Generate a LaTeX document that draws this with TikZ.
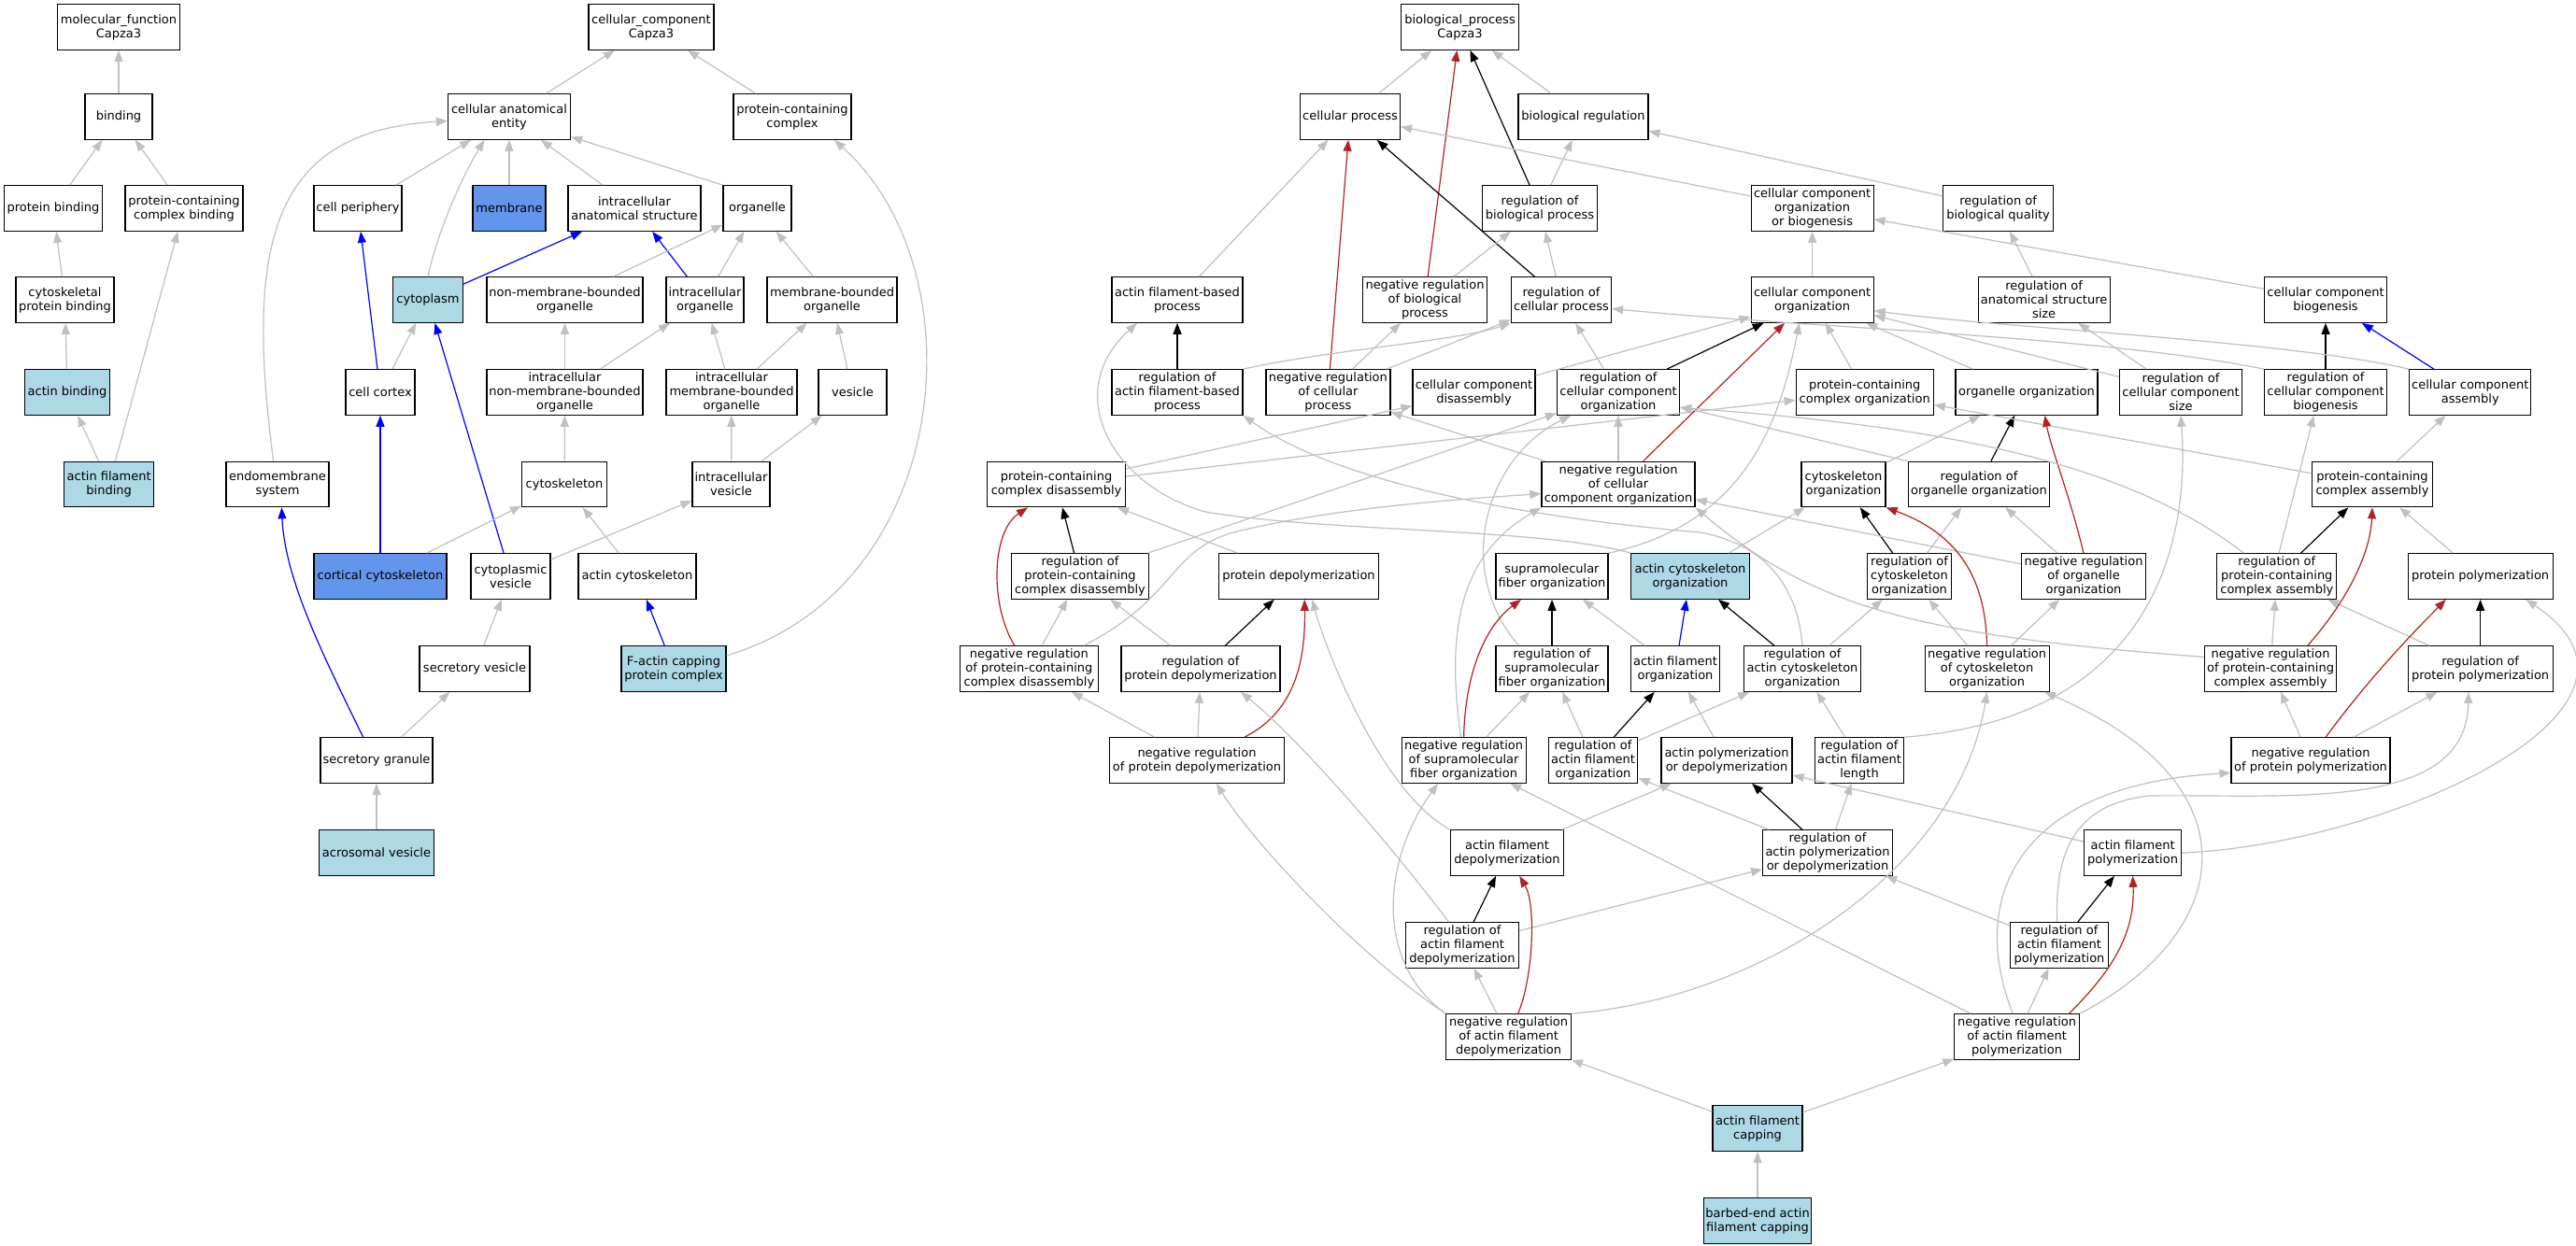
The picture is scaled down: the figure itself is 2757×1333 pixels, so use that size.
\documentclass[tikz,border=0pt]{standalone}
\usepackage{fontspec}
\setmainfont{DejaVu Sans}
\usetikzlibrary{arrows.meta}
\definecolor{isagray}{HTML}{C0C0C0}
\definecolor{hitblue}{HTML}{ADD8E6}
\definecolor{leafblue}{HTML}{6495ED}
\definecolor{negred}{HTML}{B22222}
\begin{document}
\begin{tikzpicture}[x=1pt,y=1pt,yscale=-1,
    term/.style={draw=black, line width=1.2pt, fill=white, minimum height=48.5pt, inner xsep=2pt, inner ysep=1pt, align=center, font=\fontsize{13}{15}\selectfont},
    hit/.style={term, fill=hitblue},
    leaf/.style={term, fill=leafblue},
    goedge/.style={line width=1.2pt, -{Triangle[length=12pt,width=9pt]}},
    isa/.style={goedge, isagray},
    regulates/.style={goedge, black},
    negregulates/.style={goedge, negred},
    partof/.style={goedge, blue}]
    \useasboundingbox[fill=white] (0,0) rectangle (2757,1333);

    %Shapes: molecular function and cellular component
    \node [term, minimum width=131pt] (mf) at (127,29) {molecular\_function\\Capza3};
    \node [term, minimum width=134pt] (cc) at (697,29) {cellular\_component\\Capza3};
    \node [term, minimum width=72pt] (bind) at (127,125) {binding};
    \node [term, minimum width=131pt] (cae) at (545,125) {cellular anatomical\\entity};
    \node [term, minimum width=126pt] (pcc) at (848,125) {protein-containing\\complex};
    \node [term, minimum width=105pt] (pb) at (57,223) {protein binding};
    \node [term, minimum width=126pt] (pccb) at (197,223) {protein-containing\\complex binding};
    \node [term, minimum width=94pt] (cper) at (383,223) {cell periphery};
    \node [leaf, minimum width=78pt] (mem) at (545,223) {membrane};
    \node [term, minimum width=142pt] (ias) at (679,223) {intracellular\\anatomical structure};
    \node [term, minimum width=73pt] (org) at (810.5,223) {organelle};
    \node [term, minimum width=105pt] (cpb) at (69.5,321) {cytoskeletal\\protein binding};
    \node [hit, minimum width=75pt] (cyt) at (458,321) {cytoplasm};
    \node [term, minimum width=167pt] (nmbo) at (604.5,321) {non-membrane-bounded\\organelle};
    \node [term, minimum width=83pt] (io) at (754.5,321) {intracellular\\organelle};
    \node [term, minimum width=139pt] (mbo) at (890.5,321) {membrane-bounded\\organelle};
    \node [hit, minimum width=91pt] (ab) at (72,420) {actin binding};
    \node [term, minimum width=74pt] (ccx) at (407,420) {cell cortex};
    \node [term, minimum width=167pt] (inmbo) at (604.5,420) {intracellular\\non-membrane-bounded\\organelle};
    \node [term, minimum width=140pt] (imbo) at (783,420) {intracellular\\membrane-bounded\\organelle};
    \node [term, minimum width=73pt] (ves) at (912.5,420) {vesicle};
    \node [hit, minimum width=96pt] (afb) at (116.7,518.5) {actin filament\\binding};
    \node [term, minimum width=110pt] (ems) at (297,518.5) {endomembrane\\system};
    \node [term, minimum width=91pt] (csk) at (604,518.5) {cytoskeleton};
    \node [term, minimum width=83pt] (iv) at (782.5,518.5) {intracellular\\vesicle};
    \node [leaf, minimum width=142pt] (ccsk) at (407,617) {cortical cytoskeleton};
    \node [term, minimum width=85pt] (cv) at (546.5,617) {cytoplasmic\\vesicle};
    \node [term, minimum width=126pt] (acsk) at (682,617) {actin cytoskeleton};
    \node [term, minimum width=118pt] (sv) at (508,716) {secretory vesicle};
    \node [hit, minimum width=112pt] (facpc) at (721,716) {F-actin capping\\protein complex};
    \node [term, minimum width=120pt] (sg) at (403,814) {secretory granule};
    \node [hit, minimum width=123pt] (av) at (403,913) {acrosomal vesicle};

    %Shapes: biological process
    \node [term, minimum width=126pt] (bp) at (1562.5,29) {biological\_process\\Capza3};
    \node [term, minimum width=107pt] (cp) at (1445,125) {cellular process};
    \node [term, minimum width=139pt] (br) at (1694.5,125) {biological regulation};
    \node [term, minimum width=123pt] (rbp) at (1648,223) {regulation of\\biological process};
    \node [term, minimum width=131pt] (ccob) at (1939.6,223) {cellular component\\organization\\or biogenesis};
    \node [term, minimum width=118pt] (rbq) at (2138.6,223) {regulation of\\biological quality};
    \node [term, minimum width=140pt] (afbp) at (1260,321) {actin filament-based\\process};
    \node [term, minimum width=133pt] (nrbp) at (1525,321) {negative regulation\\of biological\\process};
    \node [term, minimum width=107pt] (rcp) at (1671,321) {regulation of\\cellular process};
    \node [term, minimum width=131pt] (cco) at (1939.6,321) {cellular component\\organization};
    \node [term, minimum width=141pt] (rass) at (2187.6,321) {regulation of\\anatomical structure\\size};
    \node [term, minimum width=131pt] (ccb) at (2489,321) {cellular component\\biogenesis};
    \node [term, minimum width=140pt] (rafbp) at (1260,420) {regulation of\\actin filament-based\\process};
    \node [term, minimum width=133pt] (nrcp) at (1421.4,420) {negative regulation\\of cellular\\process};
    \node [term, minimum width=131pt] (ccd) at (1577.5,420) {cellular component\\disassembly};
    \node [term, minimum width=131pt] (rcco) at (1732,420) {regulation of\\cellular component\\organization};
    \node [term, minimum width=147pt] (pcco) at (1995.7,420) {protein-containing\\complex organization};
    \node [term, minimum width=152pt] (oo) at (2169,420) {organelle organization};
    \node [term, minimum width=131pt] (rccs) at (2334,420) {regulation of\\cellular component\\size};
    \node [term, minimum width=131pt] (rccb) at (2489,420) {regulation of\\cellular component\\biogenesis};
    \node [term, minimum width=130pt] (cca) at (2643.8,420) {cellular component\\assembly};
    \node [term, minimum width=147.6pt] (pccd) at (1130.6,518.5) {protein-containing\\complex disassembly};
    \node [term, minimum width=164pt] (nrcco) at (1732,518.5) {negative regulation\\of cellular\\component organization};
    \node [term, minimum width=90pt] (cso) at (1973,518.5) {cytoskeleton\\organization};
    \node [term, minimum width=151.5pt] (roo) at (2118,518.5) {regulation of\\organelle organization};
    \node [term, minimum width=128.6pt] (pcca) at (2539,518.5) {protein-containing\\complex assembly};
    \node [term, minimum width=147.6pt] (rpccd) at (1156,617) {regulation of\\protein-containing\\complex disassembly};
    \node [term, minimum width=171pt] (pd) at (1390,617) {protein depolymerization};
    \node [term, minimum width=120pt] (sfo) at (1661,617) {supramolecular\\fiber organization};
    \node [hit, minimum width=126.3pt] (aco) at (1809,617) {actin cytoskeleton\\organization};
    \node [term, minimum width=89.7pt] (rcso) at (2043.5,617) {regulation of\\cytoskeleton\\organization};
    \node [term, minimum width=133pt] (nroo) at (2230,617) {negative regulation\\of organelle\\organization};
    \node [term, minimum width=128pt] (rpcca) at (2436.8,617) {regulation of\\protein-containing\\complex assembly};
    \node [term, minimum width=155pt] (pp) at (2654.6,617) {protein polymerization};
    \node [term, minimum width=147.6pt] (nrpccd) at (1101.4,716) {negative regulation\\of protein-containing\\complex disassembly};
    \node [term, minimum width=170pt] (rpd) at (1285,716) {regulation of\\protein depolymerization};
    \node [term, minimum width=120pt] (rsfo) at (1661,716) {regulation of\\supramolecular\\fiber organization};
    \node [term, minimum width=95.3pt] (afo) at (1793,716) {actin filament\\organization};
    \node [term, minimum width=125.7pt] (raco) at (1929,716) {regulation of\\actin cytoskeleton\\organization};
    \node [term, minimum width=133pt] (nrcso) at (2126.6,716) {negative regulation\\of cytoskeleton\\organization};
    \node [term, minimum width=141.5pt] (nrpcca) at (2430,716) {negative regulation\\of protein-containing\\complex assembly};
    \node [term, minimum width=155pt] (rpp) at (2654.6,716) {regulation of\\protein polymerization};
    \node [term, minimum width=186.6pt] (nrpd) at (1281,814) {negative regulation\\of protein depolymerization};
    \node [term, minimum width=133pt] (nrsfo) at (1566.6,814) {negative regulation\\of supramolecular\\fiber organization};
    \node [term, minimum width=95.7pt] (rafo) at (1705,814) {regulation of\\actin filament\\organization};
    \node [term, minimum width=140pt] (apd) at (1848,814) {actin polymerization\\or depolymerization};
    \node [term, minimum width=95.5pt] (rafl) at (1990,814) {regulation of\\actin filament\\length};
    \node [term, minimum width=170pt] (nrpp) at (2473,814) {negative regulation\\of protein polymerization};
    \node [term, minimum width=120.6pt] (afd) at (1613,913) {actin filament\\depolymerization};
    \node [term, minimum width=138.8pt] (rapd) at (1956,913) {regulation of\\actin polymerization\\or depolymerization};
    \node [term, minimum width=104pt] (afp) at (2282.6,913) {actin filament\\polymerization};
    \node [term, minimum width=120.7pt] (rafd) at (1565,1012) {regulation of\\actin filament\\depolymerization};
    \node [term, minimum width=105.3pt] (rafp) at (2204,1012) {regulation of\\actin filament\\polymerization};
    \node [term, minimum width=133.7pt] (nrafd) at (1614.6,1110) {negative regulation\\of actin filament\\depolymerization};
    \node [term, minimum width=133.6pt] (nrafp) at (2158.6,1110) {negative regulation\\of actin filament\\polymerization};
    \node [hit, minimum width=96pt] (afc) at (1881,1208) {actin filament\\capping};
    \node [hit, minimum width=115pt] (beafc) at (1881,1307) {barbed-end actin\\filament capping};

    %Straight Lines: molecular function and cellular component
    \draw [isa] (bind) -- (mf);
    \draw [isa] (pb) -- (bind);
    \draw [isa] (pccb) -- (bind);
    \draw [isa] (cpb) -- (pb);
    \draw [isa] (ab) -- (cpb);
    \draw [isa] (afb) -- (ab);
    \draw [isa] (afb) -- (pccb);
    \draw [isa] (cae) -- (cc);
    \draw [isa] (pcc) -- (cc);
    \draw [isa] (cper) -- (cae);
    \draw [isa] (mem) -- (cae);
    \draw [isa] (ias) -- (cae);
    \draw [isa] (org.north west) -- (cae.-18);
    \draw [partof] (ccx) -- (cper);
    \draw [partof] (cyt) -- (ias);
    \draw [partof] (io) -- (ias);
    \draw [isa] (nmbo) -- (org);
    \draw [isa] (io) -- (org);
    \draw [isa] (mbo) -- (org);
    \draw [isa] (ccx) -- (cyt);
    \draw [partof] (cv) -- (cyt);
    \draw [isa] (inmbo) -- (nmbo);
    \draw [isa] (inmbo) -- (io);
    \draw [isa] (imbo) -- (io);
    \draw [isa] (imbo) -- (mbo);
    \draw [isa] (ves) -- (mbo);
    \draw [isa] (csk) -- (inmbo);
    \draw [isa] (iv) -- (imbo);
    \draw [isa] (iv) -- (ves);
    \draw [partof] (ccsk) -- (ccx);
    \draw [isa] (ccsk) -- (csk);
    \draw [isa] (cv) -- (iv);
    \draw [isa] (acsk) -- (csk);
    \draw [partof] (facpc) -- (acsk);
    \draw [isa] (sv) -- (cv);
    \draw [isa] (sg) -- (sv);
    \draw [isa] (av) -- (sg);
    %Curve Lines
    \draw [isa] (ems.100) .. controls (262,260) and (290,140) .. (cae.184);
    \draw [isa] (cyt.north) .. controls (470,240) and (500,180) .. (cae.-137);
    \draw [isa] (facpc.14) .. controls (1020,630) and (1050,290) .. (pcc.-29);
    \draw [partof] (sg.120) .. controls (345,700) and (305,620) .. (ems.-80);

    %Straight Lines: biological process
    \draw [isa] (cp) -- (bp);
    \draw [isa] (br) -- (bp);
    \draw [regulates] (rbp) -- (bp);
    \draw [negregulates] (nrbp) -- (bp);
    \draw [isa] (rbp) -- (br);
    \draw [isa] (ccob) -- (cp);
    \draw [isa] (rbq) -- (br);
    \draw [isa] (afbp) -- (cp);
    \draw [negregulates] (nrcp) -- (cp);
    \draw [regulates] (rcp) -- (cp);
    \draw [isa] (nrbp) -- (rbp);
    \draw [isa] (rcp) -- (rbp);
    \draw [isa] (cco) -- (ccob);
    \draw [isa] (ccb) -- (ccob);
    \draw [isa] (rass) -- (rbq);
    \draw [regulates] (rafbp) -- (afbp);
    \draw [isa] (nrcp) -- (nrbp);
    \draw [isa] (nrcp) -- (rcp);
    \draw [isa] (rcco) -- (rcp);
    \draw [regulates] (rcco) -- (cco);
    \draw [isa] (ccd) -- (cco);
    \draw [isa] (pcco) -- (cco);
    \draw [isa] (oo) -- (cco);
    \draw [isa] (rccs) -- (cco);
    \draw [isa] (rccs) -- (rass);
    \draw [regulates] (rccb) -- (ccb);
    \draw [partof] (cca) -- (ccb);
    \draw [isa] (pccd) -- (ccd);
    \draw [isa] (pccd) -- (pcco);
    \draw [negregulates] (nrcco.43) -- (cco.-140);
    \draw [isa] (nrcco) -- (rcco);
    \draw [isa] (nrcco) -- (nrcp);
    \draw [isa] (cso) -- (oo);
    \draw [regulates] (roo) -- (oo);
    \draw [isa] (roo.north west) -- (rcco);
    \draw [isa] (pcca) -- (pcco);
    \draw [isa] (pcca) -- (cca);
    \draw [regulates] (rpccd) -- (pccd);
    \draw [isa] (rpccd) -- (rcco);
    \draw [isa] (pd) -- (pccd);
    \draw [isa] (aco) -- (cso);
    \draw [regulates] (rcso) -- (cso);
    \draw [isa] (rcso) -- (roo);
    \draw [isa] (nroo) -- (roo);
    \draw [isa] (nroo) -- (nrcco);
    \draw [regulates] (rpcca) -- (pcca);
    \draw [isa] (rpcca.85) -- (rccb.-117);
    \draw [isa] (pp) -- (pcca);
    \draw [isa] (nrpccd) -- (rpccd);
    \draw [isa] (rpd) -- (rpccd);
    \draw [regulates] (rpd) -- (pd);
    \draw [regulates] (rsfo) -- (sfo);
    \draw [isa] (afo) -- (sfo);
    \draw [partof] (afo) -- (aco);
    \draw [regulates] (raco) -- (aco);
    \draw [isa] (raco) -- (rcso);
    \draw [isa] (nrcso) -- (rcso);
    \draw [isa] (nrcso) -- (nroo);
    \draw [isa] (nrpcca) -- (rpcca);
    \draw [isa] (rpp) -- (rpcca);
    \draw [regulates] (rpp) -- (pp);
    \draw [isa] (nrpd) -- (rpd);
    \draw [isa] (nrpd) -- (nrpccd);
    \draw [isa] (nrsfo) -- (rsfo);
    \draw [regulates] (rafo) -- (afo);
    \draw [isa] (rafo) -- (rsfo);
    \draw [isa] (rafo) -- (raco);
    \draw [isa] (apd) -- (afo);
    \draw [isa] (rafl) -- (raco);
    \draw [isa] (nrpp) -- (nrpcca);
    \draw [isa] (nrpp) -- (rpp);
    \draw [isa] (afd) -- (apd);
    \draw [regulates] (rapd) -- (apd);
    \draw [isa] (rapd) -- (rafl);
    \draw [isa] (rapd) -- (rafo);
    \draw [isa] (afp) -- (apd);
    \draw [regulates] (rafd) -- (afd);
    \draw [isa] (rafd) -- (rapd);
    \draw [regulates] (rafp) -- (afp);
    \draw [isa] (rafp) -- (rapd);
    \draw [isa] (nrafd) -- (rafd);
    \draw [isa] (nrafp) -- (rafp);
    \draw [isa] (nrafp) -- (nrsfo);
    \draw [isa] (afc) -- (nrafd);
    \draw [isa] (afc) -- (nrafp);
    \draw [isa] (beafc) -- (afc);
    %Curve Lines
    \draw [isa] (rafbp.north east) .. controls (1420,375) and (1560,365) .. (rcp.south west);
    \draw [isa] (rccb.north west) .. controls (2250,360) and (1950,352) .. (rcp.-10);
    \draw [isa] (cca.north west) .. controls (2450,365) and (2150,352) .. (cco.-10);
    \draw [isa] (sfo.north east) .. controls (1870,560) and (1905,450) .. (cco.-119);
    \draw [isa] (aco.north west) .. controls (1650,565) and (1420,570) .. (1290,548) .. controls (1190,520) and (1135,420) .. (afbp.210);
    \draw [negregulates] (nroo.north) .. controls (2215,530) and (2195,480) .. (oo.-52);
    \draw [isa] (rpcca.145) .. controls (2270,490) and (2060,455) .. (rcco.-14);
    \draw [negregulates] (nrpccd.122) .. controls (1060,650) and (1060,570) .. (pccd.-141);
    \draw [isa] (nrpccd.23) .. controls (1260,640) and (1250,590) .. (1320,570) .. controls (1420,545) and (1550,535) .. (nrcco.187);
    \draw [isa] (rsfo.145) .. controls (1555,610) and (1590,490) .. (rcco.-154);
    \draw [isa] (raco.north) .. controls (1925,640) and (1900,585) .. (1820,570) .. controls (1700,560) and (1450,530) .. (rafbp.south east);
    \draw [negregulates] (nrcso.north) .. controls (2125,630) and (2105,575) .. (cso.south east);
    \draw [negregulates] (nrpcca.32) .. controls (2515,640) and (2537,590) .. (pcca.south);
    \draw [isa] (nrpcca.170) .. controls (2050,680) and (1940,650) .. (nrcco.south east);
    \draw [negregulates] (nrpd.26) .. controls (1390,760) and (1397,700) .. (pd.-76);
    \draw [negregulates] (nrsfo.north) .. controls (1568,720) and (1590,670) .. (sfo.-143);
    \draw [isa] (nrsfo.97) .. controls (1545,660) and (1570,590) .. (nrcco.south west);
    \draw [isa] (rafl.north east) .. controls (2290,770) and (2345,600) .. (rccs.south);
    \draw [negregulates] (nrpp.57) .. controls (2540,720) and (2590,670) .. (pp.-146);
    \draw [isa] (afd.north west) .. controls (1480,850) and (1420,700) .. (pd.-60);
    \draw [isa] (afp.east) .. controls (2550,905) and (2880,760) .. (pp.-27);
    \draw [isa] (rafd.120) .. controls (1500,920) and (1400,800) .. (rpd.-30);
    \draw [isa] (rafp.95) .. controls (2198,900) and (2230,860) .. (2300,852) .. controls (2450,850) and (2640,870) .. (rpp.-117);
    \draw [negregulates] (nrafd.68) .. controls (1640,1050) and (1645,970) .. (afd.-62);
    \draw [isa] (nrafd.north west) .. controls (1450,1020) and (1340,900) .. (nrpd.-50);
    \draw [isa] (nrafd.north west) .. controls (1470,1030) and (1480,920) .. (nrsfo.-138);
    \draw [isa] (nrafd.north east) .. controls (1880,1070) and (2095,935) .. (nrcso.south);
    \draw [negregulates] (nrafp.24) .. controls (2260,1040) and (2285,1000) .. (afp.south);
    \draw [isa] (nrafp.100) .. controls (2105,960) and (2160,840) .. (nrpp.189);
    \draw [isa] (nrafp.north east) .. controls (2390,1000) and (2420,840) .. (nrcso.-22);
\end{tikzpicture}
\end{document}
